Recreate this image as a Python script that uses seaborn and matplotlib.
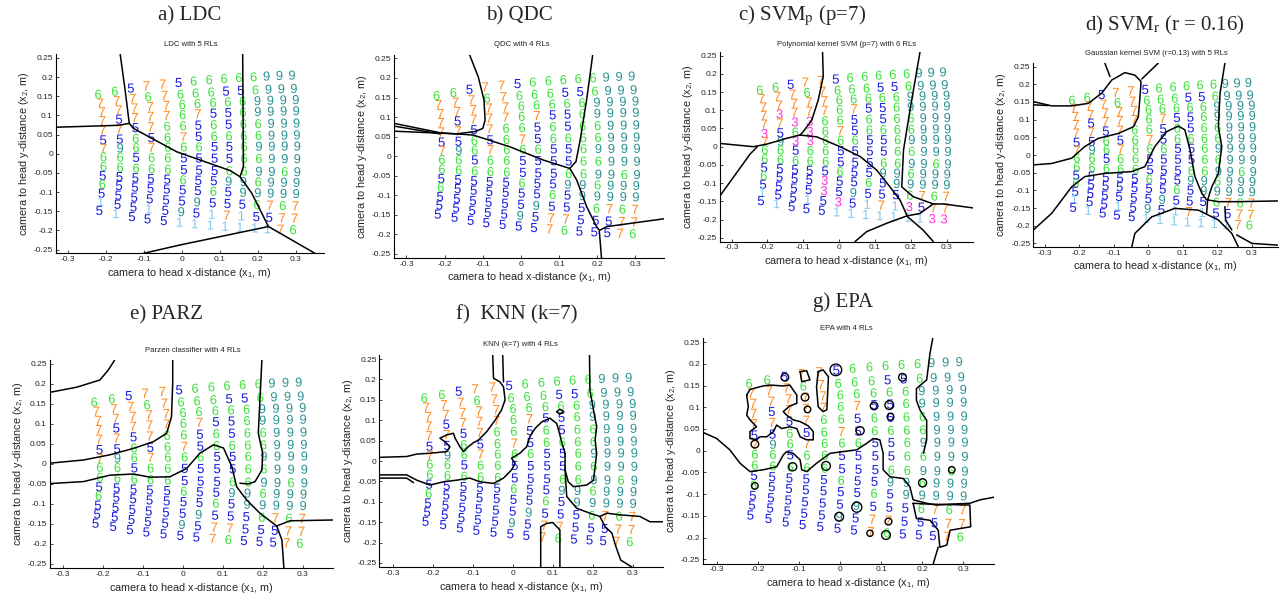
import numpy as np
import pandas as pd
import matplotlib
matplotlib.use("Agg")
import matplotlib.pyplot as plt
import seaborn as sns

# ---------------- data: measurement grid (14 columns x 14 rows) ----------------
grid_col_x = [-0.221, -0.177, -0.135, -0.094, -0.051, -0.009, 0.031, 0.072, 0.111, 0.150, 0.189, 0.223, 0.257, 0.290]
grid_col_w = [0.00, 0.16, 0.32, 0.44, 0.53, 0.61, 0.69, 0.76, 0.82, 0.87, 0.91, 0.95, 0.98, 1.00]
grid_row_dx = [0.000, 0.005, 0.010, 0.011, 0.012, 0.013, 0.014, 0.014, 0.014, 0.012, 0.011, 0.009, 0.007, 0.003]
grid_row_y_left = [0.155, 0.132, 0.109, 0.086, 0.062, 0.036, 0.014, -0.008, -0.033, -0.057, -0.079, -0.103, -0.125, -0.148]
grid_row_y_right = [0.205, 0.170, 0.141, 0.112, 0.080, 0.049, 0.020, -0.013, -0.047, -0.075, -0.104, -0.136, -0.168, -0.198]

# region labels (one string per row, one character per column)
labels_4rl = [
    "66577566666999",
    "77767666556999",
    "77777666669999",
    "75777675569999",
    "77576656566999",
    "55656756666999",
    "79676665569999",
    "66566555566999",
    "66666555669969",
    "55555655996999",
    "65555556599999",
    "55555595556767",
    "55555957755577",
    "55555557655576",
]
labels_5rl = labels_4rl[:12] + [
    "15515951715577",
    "51555111111176",
]
labels_6rl = [
    "66577566666999",
    "77767666556999",
    "77777666669999",
    "73777675569999",
    "77336656566999",
    "35636756666999",
    "79336665569999",
    "66566555566999",
    "66666555669969",
    "55555655996999",
    "65553556599999",
    "55553595556767",
    "15515351713577",
    "51555111111133",
]

digit_colors = {"1": "#86c8f0", "3": "#ff33dd", "5": "#1c1ce0", "6": "#3ee03e",
                "7": "#ff8a1c", "9": "#2c9292"}

x_tick_vals = [-0.3, -0.2, -0.1, 0.0, 0.1, 0.2, 0.3]
x_tick_text = ["-0.3", "-0.2", "-0.1", "0", "0.1", "0.2", "0.3"]
y_tick_vals = [-0.25, -0.2, -0.15, -0.1, -0.05, 0.0, 0.05, 0.1, 0.15, 0.2, 0.25]
y_tick_text = ["-0.25", "-0.2", "-0.15", "-0.1", "-0.05", "0", "0.05", "0.1", "0.15", "0.2", "0.25"]

panel_titles = ["a) LDC", "b) QDC", r"c) SVM$_\mathrm{p}$ (p=7)", r"d) SVM$_\mathrm{r}$ (r = 0.16)",
                "e) PARZ", "f)  KNN (k=7)", "g) EPA"]
panel_subtitles = ["LDC with 5 RLs", "QDC with 4 RLs", "Polynomial kernel SVM (p=7) with 6 RLs",
                   "Gaussian kernel SVM (r=0.13) with 5 RLs", "Parzen classifier with 4 RLs",
                   "KNN (k=7) with 4 RLs", "EPA with 4 RLs"]
panel_labelsets = [labels_5rl, labels_4rl, labels_6rl, labels_5rl, labels_4rl, labels_4rl, labels_4rl]

# ---------------- decision boundaries (data coordinates) ----------------
bnd_a = [
    [(-0.163, 0.26), (-0.150, 0.166), (-0.139, 0.079)],
    [(-0.333, 0.069), (-0.168, 0.074), (-0.139, 0.079)],
    [(-0.139, 0.079), (-0.128, 0.066), (-0.014, 0.005), (0.127, -0.044), (0.153, -0.06)],
    [(0.160, 0.26), (0.162, -0.034), (0.153, -0.06)],
    [(0.153, -0.06), (0.184, -0.103), (0.228, -0.19)],
    [(0.228, -0.19), (-0.005, -0.238), (-0.102, -0.26)],
    [(0.228, -0.19), (0.351, -0.26)],
]
bnd_b = [
    [(-0.135, 0.26), (-0.112, 0.203), (-0.097, 0.144), (-0.094, 0.092), (-0.100, 0.071),
     (-0.121, 0.063), (-0.169, 0.057), (-0.238, 0.060), (-0.333, 0.064)],
    [(-0.333, 0.084), (-0.212, 0.060), (-0.125, 0.054), (-0.029, 0.024), (0.059, -0.010), (0.127, -0.031)],
    [(-0.333, 0.077), (-0.212, 0.057)],
    [(0.188, 0.26), (0.172, 0.144), (0.155, 0.041), (0.144, -0.014), (0.128, -0.031)],
    [(0.128, -0.031), (0.146, -0.061), (0.172, -0.129), (0.198, -0.180), (0.205, -0.189), (0.211, -0.26)],
    [(0.207, -0.189), (0.225, -0.180), (0.375, -0.160)],
]
bnd_c = [
    [(-0.046, 0.26), (-0.044, 0.192), (-0.058, 0.128), (-0.076, 0.073), (-0.100, 0.041), (-0.109, 0.032)],
    [(-0.333, 0.009), (-0.239, 0.0), (-0.202, 0.007), (-0.146, 0.023), (-0.109, 0.032)],
    [(-0.228, 0.0), (-0.248, -0.020), (-0.333, -0.136)],
    [(-0.109, 0.032), (-0.062, 0.027), (0.003, 0.0), (0.059, -0.027), (0.105, -0.064),
     (0.142, -0.110), (0.170, -0.146), (0.189, -0.187)],
    [(0.226, 0.26), (0.198, 0.100), (0.180, -0.009), (0.175, -0.110), (0.207, -0.137),
     (0.263, -0.157), (0.291, -0.157), (0.375, -0.168)],
    [(0.263, -0.157), (0.226, -0.183), (0.189, -0.190)],
    [(0.189, -0.190), (0.133, -0.210), (0.077, -0.233), (0.045, -0.26)],
    [(0.189, -0.190), (0.235, -0.229), (0.263, -0.26)],
]
bnd_d = [
    [(-0.333, 0.151), (-0.280, 0.139), (-0.222, 0.139), (-0.174, 0.146), (-0.135, 0.175), (-0.106, 0.212),
     (-0.068, 0.233), (-0.039, 0.226), (-0.021, 0.208), (-0.024, 0.165), (-0.029, 0.108), (-0.043, 0.080),
     (-0.087, 0.061), (-0.145, 0.047), (-0.184, 0.024), (-0.222, -0.009), (-0.280, -0.024), (-0.333, -0.028)],
    [(-0.333, 0.142), (-0.290, 0.140)],
    [(-0.126, 0.26), (-0.111, 0.222)],
    [(0.029, 0.26), (-0.019, 0.215)],
    [(-0.333, -0.212), (-0.280, -0.165), (-0.222, -0.090), (-0.184, -0.061), (-0.126, -0.052), (-0.048, -0.047),
     (-0.010, -0.033), (0.019, 0.024), (0.053, 0.066), (0.087, 0.082), (0.106, 0.071), (0.121, 0.014),
     (0.135, -0.061), (0.155, -0.108), (0.169, -0.127)],
    [(0.222, 0.26), (0.208, 0.175), (0.203, 0.080), (0.213, 0.024), (0.203, -0.052), (0.184, -0.090),
     (0.172, -0.127), (0.169, -0.165)],
    [(0.172, -0.127), (0.203, -0.132), (0.261, -0.132), (0.375, -0.130)],
    [(-0.048, -0.26), (-0.039, -0.222), (0.010, -0.175), (0.077, -0.151), (0.145, -0.156), (0.203, -0.184),
     (0.242, -0.222), (0.261, -0.26)],
    [(0.222, -0.146), (0.224, -0.184), (0.242, -0.212)],
    [(0.256, -0.226), (0.300, -0.250), (0.375, -0.255)],
]
bnd_e = [
    [(-0.333, 0.179), (-0.265, 0.192), (-0.207, 0.210), (-0.186, 0.235), (-0.170, 0.26)],
    [(-0.333, 0.002), (-0.248, 0.010), (-0.182, 0.023), (-0.123, 0.039), (-0.073, 0.056), (-0.040, 0.077),
     (-0.028, 0.118), (-0.025, 0.202), (-0.025, 0.26)],
    [(-0.333, -0.049), (-0.248, -0.044), (-0.182, -0.028), (-0.123, -0.025), (-0.082, -0.033), (-0.032, -0.032),
     (0.010, -0.011), (0.043, 0.027), (0.077, 0.048), (0.102, 0.040), (0.123, -0.007), (0.135, -0.057),
     (0.160, -0.090), (0.193, -0.123), (0.235, -0.155)],
    [(0.198, 0.26), (0.193, 0.160), (0.189, 0.077), (0.200, 0.027), (0.198, -0.015), (0.181, -0.044),
     (0.164, -0.050), (0.143, -0.048)],
    [(0.235, -0.155), (0.268, -0.142), (0.375, -0.140)],
    [(0.235, -0.155), (0.248, -0.190), (0.253, -0.26)],
]
bnd_f = [
    [(-0.050, 0.26), (-0.048, 0.203), (-0.032, 0.194), (-0.023, 0.182), (-0.019, 0.150), (-0.028, 0.125),
     (-0.044, 0.100), (-0.065, 0.072), (-0.086, 0.051), (-0.098, 0.045), (-0.111, 0.035), (-0.123, 0.023),
     (-0.132, 0.035), (-0.144, 0.056), (-0.148, 0.068), (-0.165, 0.064), (-0.182, 0.056), (-0.169, 0.047),
     (-0.157, 0.035), (-0.165, 0.023), (-0.207, 0.019), (-0.240, 0.017), (-0.265, 0.011), (-0.333, 0.009)],
    [(-0.025, 0.26), (-0.023, 0.194)],
    [(-0.333, -0.034), (-0.265, -0.034), (-0.240, -0.047), (-0.207, -0.059), (-0.173, -0.051), (-0.140, -0.047),
     (-0.107, -0.042), (-0.082, -0.051), (-0.048, -0.055), (-0.023, -0.042), (-0.003, -0.022), (0.006, -0.006),
     (-0.003, 0.007), (0.018, 0.019), (0.035, 0.035), (0.043, 0.060), (0.056, 0.080), (0.073, 0.096),
     (0.093, 0.105), (0.110, 0.092), (0.117, 0.068), (0.123, 0.044), (0.131, 0.019), (0.131, -0.022),
     (0.139, -0.051), (0.152, -0.063), (0.185, -0.059), (0.202, -0.047), (0.206, -0.014), (0.210, 0.019),
     (0.206, 0.051), (0.210, 0.084), (0.202, 0.125), (0.193, 0.174), (0.192, 0.26)],
    [(-0.333, -0.042), (-0.265, -0.042), (-0.248, -0.053)],
    [(0.131, -0.022), (0.135, -0.087), (0.160, -0.116), (0.193, -0.128), (0.218, -0.136), (0.235, -0.128),
     (0.268, -0.132), (0.318, -0.136), (0.343, -0.149), (0.375, -0.149)],
    [(0.218, -0.136), (0.231, -0.161), (0.248, -0.177), (0.258, -0.210), (0.270, -0.243), (0.298, -0.26)],
    [(0.070, -0.26), (0.070, -0.161), (0.085, -0.153), (0.100, -0.151), (0.118, -0.169), (0.118, -0.26)],
    [(0.110, 0.121), (0.118, 0.127), (0.128, 0.121), (0.118, 0.115), (0.110, 0.121)],
]
bnd_g = [
    [(-0.333, 0.042), (-0.300, 0.028), (-0.268, 0.002), (-0.243, -0.029), (-0.219, -0.048), (-0.187, -0.044),
     (-0.154, -0.037), (-0.138, -0.010), (-0.130, -0.002), (-0.114, -0.006), (-0.097, -0.021), (-0.093, -0.044),
     (-0.081, -0.048), (-0.057, -0.029), (-0.024, -0.006), (0.008, -0.002), (0.041, 0.002), (0.065, 0.017),
     (0.081, 0.028), (0.097, 0.025), (0.105, -0.006), (0.105, -0.044), (0.122, -0.060), (0.154, -0.064),
     (0.170, -0.083), (0.178, -0.113), (0.211, -0.121), (0.235, -0.125), (0.268, -0.123), (0.316, -0.121),
     (0.341, -0.113), (0.375, -0.107)],
    [(0.226, 0.26), (0.219, 0.224), (0.211, 0.163), (0.186, 0.143), (0.186, 0.116), (0.195, 0.093),
     (0.211, 0.070), (0.211, 0.025), (0.203, -0.006)],
    [(-0.227, 0.128), (-0.219, 0.141), (-0.187, 0.149), (-0.170, 0.151), (-0.138, 0.149), (-0.122, 0.151),
     (-0.105, 0.128), (-0.105, 0.109), (-0.122, 0.103), (-0.138, 0.090), (-0.130, 0.082), (-0.114, 0.071),
     (-0.097, 0.067), (-0.077, 0.057), (-0.065, 0.044), (-0.065, 0.025), (-0.081, 0.025), (-0.097, 0.032),
     (-0.105, 0.051), (-0.122, 0.055), (-0.142, 0.051), (-0.154, 0.059), (-0.162, 0.044), (-0.178, 0.032),
     (-0.195, 0.032), (-0.203, 0.025), (-0.219, 0.028), (-0.219, 0.044), (-0.203, 0.055), (-0.219, 0.071),
     (-0.227, 0.082), (-0.223, 0.101), (-0.227, 0.128)],
    [(-0.053, 0.182), (-0.041, 0.186), (-0.028, 0.170), (-0.032, 0.094), (-0.041, 0.090), (-0.053, 0.101),
     (-0.057, 0.147), (-0.053, 0.182)],
    [(-0.097, 0.182), (-0.081, 0.184), (-0.073, 0.163), (-0.093, 0.159), (-0.097, 0.182)],
    [(0.178, -0.121), (0.219, -0.123), (0.316, -0.125), (0.318, -0.175), (0.268, -0.183), (0.260, -0.217),
     (0.243, -0.222), (0.239, -0.183), (0.219, -0.160), (0.186, -0.156), (0.178, -0.121)],
    [(0.239, -0.222), (0.227, -0.26)],
]
panel_bounds = [bnd_a, bnd_b, bnd_c, bnd_d, bnd_e, bnd_f, bnd_g]

# small isolated EPA region contours (centres and sizes)
epa_loop_x = [-0.134, -0.085, -0.079, -0.010, 0.049, 0.083, 0.120, 0.123, 0.152, -0.115, -0.034,
              -0.207, -0.002, 0.041, 0.118, 0.073, 0.112, 0.201, 0.272, -0.207]
epa_loop_y = [0.169, 0.123, 0.095, 0.186, 0.046, 0.103, 0.105, 0.078, 0.169, -0.037, -0.035,
              -0.081, -0.152, -0.130, -0.163, -0.190, -0.194, -0.074, -0.044, 0.015]
epa_loop_s = [30, 30, 22, 70, 34, 30, 40, 24, 30, 34, 40, 22, 40, 52, 24, 20, 40, 34, 22, 30]

# ---------------- layout (pixels: left, top, right, bottom) ----------------
W, H = 1282, 596
panel_boxes = [(55.7, 54.0, 324.2, 253.4), (393.9, 54.5, 664.1, 257.9), (719.7, 51.9, 973.4, 241.5),
               (1033.4, 63.1, 1277.7, 246.9), (49.5, 360.0, 332.7, 568.0), (379.5, 355.0, 662.7, 567.0),
               (703.1, 337.7, 994.1, 563.7)]
title_pos = [(190, 16), (519, 16), (802, 16), (1165, 25), (167, 315), (517, 315), (843, 302)]
subtitle_pos = [(190.7, 45), (521.7, 45), (846.7, 44), (1156.7, 53.3), (192.7, 350.7), (520.7, 345), (846.7, 328.3)]

# ---------------- style ----------------
sns.set_style("ticks")
plt.rcParams['font.family'] = ['Liberation Sans', 'DejaVu Sans']
plt.rcParams['mathtext.fontset'] = 'custom'
plt.rcParams['mathtext.rm'] = 'Liberation Sans'
plt.rcParams['mathtext.it'] = 'Liberation Sans:italic'
plt.rcParams['mathtext.bf'] = 'Liberation Sans:bold'

fig = plt.figure(figsize=(W / 100, H / 100), dpi=100)


def grid_points(labels):
    recs = []
    for r, row in enumerate(labels):
        for c, ch in enumerate(row):
            x = grid_col_x[c] + grid_row_dx[r]
            y = grid_row_y_left[r] + (grid_row_y_right[r] - grid_row_y_left[r]) * grid_col_w[c]
            recs.append((x, y, ch))
    return pd.DataFrame(recs, columns=["x", "y", "label"])


for i in range(7):
    l, t, r, b = panel_boxes[i]
    ax = fig.add_axes([l / W, 1 - b / H, (r - l) / W, (b - t) / H])
    df = grid_points(panel_labelsets[i])
    order = sorted(df["label"].unique())
    sns.scatterplot(data=df, x="x", y="y", hue="label", style="label",
                    hue_order=order, style_order=order,
                    palette={k: digit_colors[k] for k in order},
                    markers={k: f"${k}$" for k in order},
                    s=44, linewidth=0, edgecolor="none", legend=False, ax=ax, zorder=2)
    for line in panel_bounds[i]:
        xs, ys = zip(*line)
        ax.plot(xs, ys, color="black", lw=1.1, zorder=3, solid_joinstyle="round")
    if i == 6:
        ax.scatter(epa_loop_x, epa_loop_y, s=epa_loop_s, facecolors="none",
                   edgecolors="black", linewidths=1.0, zorder=3)
    ax.set_xlim(-0.333, 0.375)
    ax.set_ylim(-0.26, 0.26)
    ax.set_xticks(x_tick_vals)
    ax.set_xticklabels(x_tick_text)
    ax.set_yticks(y_tick_vals)
    ax.set_yticklabels(y_tick_text)
    ax.tick_params(direction="in", length=2.5, width=0.6, labelsize=6, pad=2,
                   bottom=True, left=True, top=False, right=False)
    sns.despine(ax=ax)
    for sp in ("left", "bottom"):
        ax.spines[sp].set_color("black")
        ax.spines[sp].set_linewidth(0.8)
    ax.set_xlabel("camera to head x-distance (x$_1$, m)", fontsize=7.8, labelpad=2)
    ax.set_ylabel("camera to head y-distance (x$_2$, m)", fontsize=7.8, labelpad=2)

    tx, ty = title_pos[i]
    fig.text(tx / W, 1 - ty / H, panel_titles[i], ha="center", va="center", fontsize=15,
             family="Liberation Serif", math_fontfamily="stix")
    sx, sy = subtitle_pos[i]
    fig.text(sx / W, 1 - sy / H, panel_subtitles[i], ha="center", va="center", fontsize=5.6,
             color="#222222")

fig.savefig("out.png", dpi=100)
